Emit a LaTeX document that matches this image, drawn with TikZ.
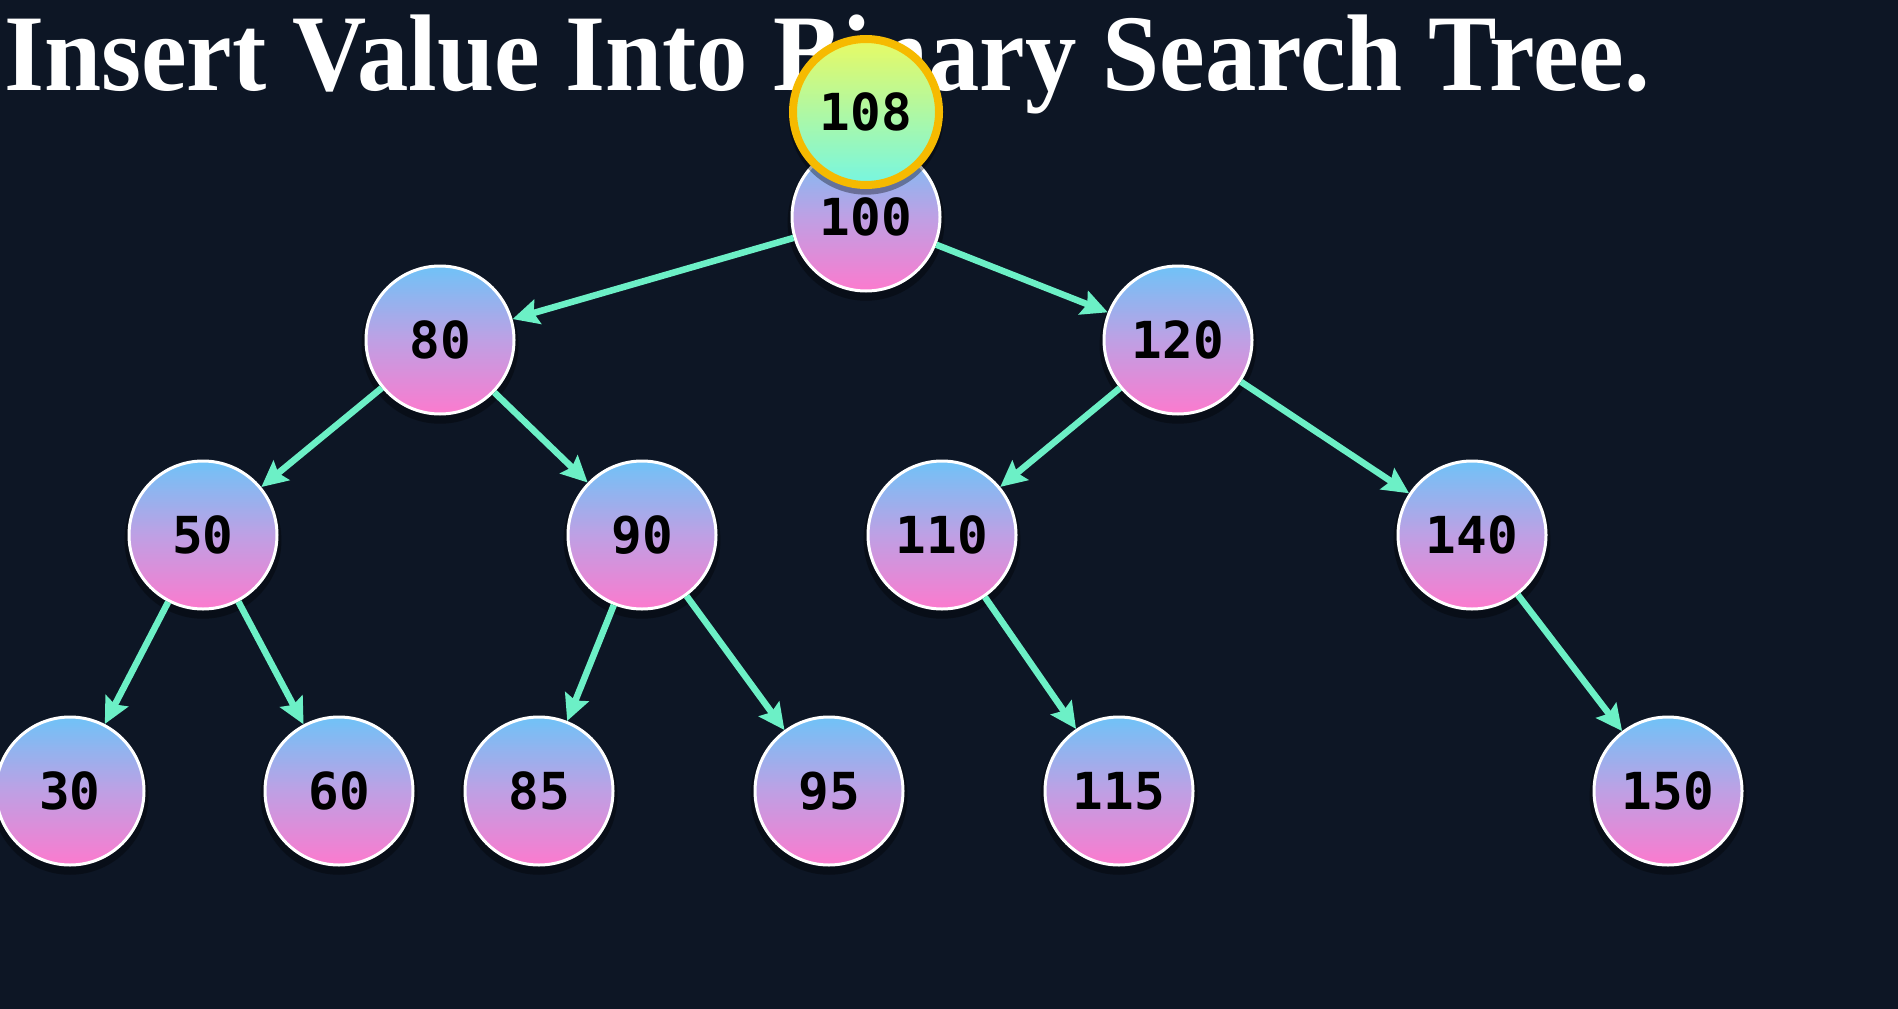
\documentclass[tikz,border=0pt]{standalone}
\usepackage{fontspec}
\setmainfont{Liberation Serif}
\newfontfamily\digitfont{DejaVu Sans Mono}
\usetikzlibrary{arrows.meta,shadows}
\definecolor{bgnavy}{RGB}{13,22,37}
\definecolor{nodeblue}{RGB}{112,194,247}
\definecolor{nodelilac}{RGB}{190,160,228}
\definecolor{nodepink}{RGB}{252,122,206}
\definecolor{newtop}{RGB}{232,250,100}
\definecolor{newbottom}{RGB}{118,246,226}
\definecolor{newring}{RGB}{246,186,0}
\definecolor{linkgreen}{RGB}{108,240,198}
\tikzset{
  treenode/.style={circle, minimum size=148pt, inner sep=0pt, draw=white, line width=3pt,
    top color=nodeblue, bottom color=nodepink, middle color=nodelilac,
    drop shadow={shadow xshift=0pt, shadow yshift=-5pt, shadow scale=1.06, fill=black, opacity=0.35},
    font=\digitfont\bfseries\fontsize{51}{60}\selectfont},
  newnode/.style={treenode, minimum size=146pt, draw=newring, line width=8pt,
    top color=newtop, bottom color=newbottom, middle color={newtop!50!newbottom}},
  link/.style={draw=linkgreen, line width=6.5pt, -{Stealth[length=26pt,width=25pt,inset=4pt]}}
}
\begin{document}
\begin{tikzpicture}[x=1pt,y=-1pt]
        \fill[bgnavy] (0,0) rectangle (1898,1009);
        \useasboundingbox (0,0) rectangle (1898,1009);
        % title
        \node(title)[anchor=base west, inner sep=0pt, text=white, font=\bfseries\fontsize{109}{120}\selectfont]
          at (4,90) {\resizebox{1646pt}{\height}{Insert Value Into Binary Search Tree.}};
        % tree
        \node(n100)[treenode] at (866,217) {100};
        \node(n80)[treenode] at (440,340) {80};
        \node(n120)[treenode] at (1178,340) {120};
        \node(n50)[treenode] at (203,535) {50};
        \node(n90)[treenode] at (642,535) {90};
        \node(n110)[treenode] at (942,535) {110};
        \node(n140)[treenode] at (1472,535) {140};
        \node(n30)[treenode] at (70,791) {30};
        \node(n60)[treenode] at (339,791) {60};
        \node(n85)[treenode] at (539,791) {85};
        \node(n95)[treenode] at (829,791) {95};
        \node(n115)[treenode] at (1119,791) {115};
        \node(n150)[treenode] at (1668,791) {150};
        \draw[link](n100)--(n80);
        \draw[link](n100)--(n120);
        \draw[link](n80)--(n50);
        \draw[link](n80)--(n90);
        \draw[link](n120)--(n110);
        \draw[link](n120)--(n140);
        \draw[link](n50)--(n30);
        \draw[link](n50)--(n60);
        \draw[link](n90)--(n85);
        \draw[link](n90)--(n95);
        \draw[link](n110)--(n115);
        \draw[link](n140)--(n150);
        % value being inserted
        \node(n108)[newnode] at (866,112) {108};
\end{tikzpicture}
\end{document}
